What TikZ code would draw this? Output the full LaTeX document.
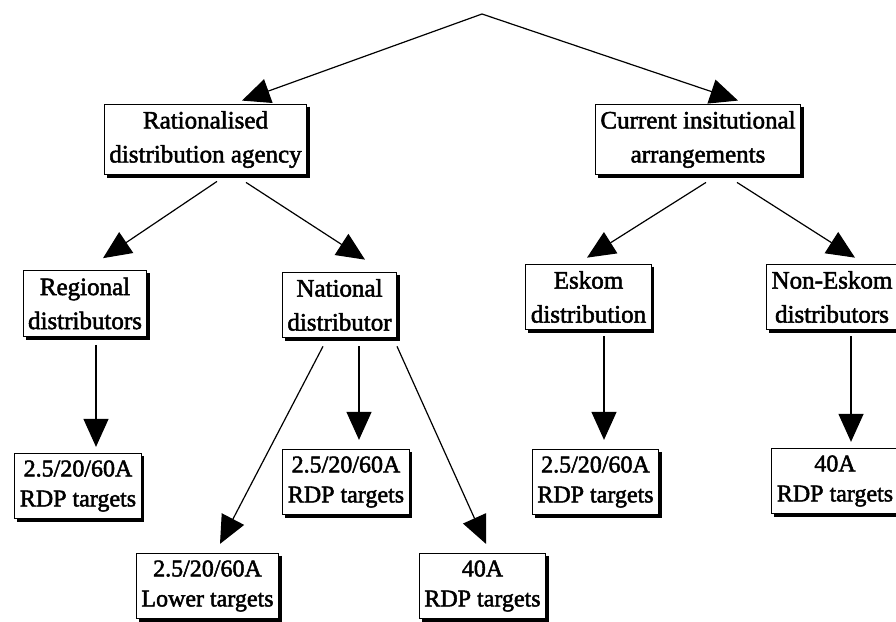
\documentclass[tikz,border=0pt]{standalone}
\usepackage{fontspec}
\setmainfont{Liberation Serif}[AutoFakeBold=2]
\usetikzlibrary{arrows.meta}

\begin{document}
\begin{tikzpicture}[x=1pt,y=-1pt,
    box/.style={draw,rectangle,line width=1.1pt,fill=white,align=center,
      inner xsep=5pt,inner ysep=7pt,
      font=\fontsize{25}{34}\selectfont\bfseries},
    target/.style={box,font=\fontsize{24}{30}\selectfont\bfseries},
    link/.style={line width=1.2pt,-{Triangle[length=28pt,width=25pt]}}]

  \useasboundingbox (0,0) rectangle (896,621);

  \coordinate (top) at (482,14);

  \node [box] (rat) at (205.5,139.5) {Rationalised\\distribution agency};
  \node [box] (cur) at (698,139.5) {Current insitutional\\arrangements};

  \node [box] (reg) at (85,303.5)  {Regional\\distributors};
  \node [box] (nat) at (339.5,305) {National\\distributor};
  \node [box] (esk) at (588.5,297) {Eskom\\distribution};
  \node [box] (non) at (832,297)   {Non-Eskom\\distributors};

  \node [target] (regt)   at (78,486)    {2.5/20/60A\\RDP targets};
  \node [target] (midt)   at (346,482)   {2.5/20/60A\\RDP targets};
  \node [target] (lowt)   at (207.5,586) {2.5/20/60A\\Lower targets};
  \node [target] (fortyt) at (482.5,586) {40A\\RDP targets};
  \node [target] (eskt)   at (595.5,482) {2.5/20/60A\\RDP targets};
  \node [target] (nont)   at (835,481)   {40A\\RDP targets};

  % shadow on right and bottom edges
  \foreach \n in {rat,cur,reg,nat,esk,non,regt,midt,lowt,fortyt,eskt,nont}
    \draw [line width=3pt]
      ([xshift=1.2pt,yshift=-3pt]\n.north east) -- ([xshift=1.2pt,yshift=-1.2pt]\n.south east)
      -- ([xshift=3pt,yshift=-1.2pt]\n.south west);

  \path [link]
    (top) edge ([xshift=36.5pt,yshift=3pt]rat.north)
    (top) edge ([xshift=40pt,yshift=3pt]cur.north)
    ([xshift=11.5pt,yshift=-6pt]rat.south) edge ([xshift=18pt,yshift=12pt]reg.north)
    ([xshift=40.5pt,yshift=-7pt]rat.south) edge ([xshift=25.5pt,yshift=12pt]nat.north)
    ([xshift=8pt,yshift=-7pt]cur.south)    edge ([xshift=-1.5pt,yshift=6pt]esk.north)
    ([xshift=39pt,yshift=-7pt]cur.south)   edge ([xshift=23pt,yshift=6pt]non.north)
    ([xshift=11pt,yshift=-8pt]reg.south)   edge ([xshift=18pt,yshift=6pt]regt.north)
    ([xshift=-16.5pt,yshift=-8pt]nat.south) edge ([xshift=12.5pt,yshift=9pt]lowt.north)
    ([xshift=19.5pt,yshift=-8pt]nat.south) edge ([xshift=13pt,yshift=9pt]midt.north)
    ([xshift=57.5pt,yshift=-8pt]nat.south) edge ([xshift=3.5pt,yshift=9pt]fortyt.north)
    ([xshift=15.5pt,yshift=-6pt]esk.south) edge ([xshift=8.5pt,yshift=9pt]eskt.north)
    ([xshift=19pt,yshift=-6pt]non.south)   edge ([xshift=16pt,yshift=6pt]nont.north);

\end{tikzpicture}
\end{document}
